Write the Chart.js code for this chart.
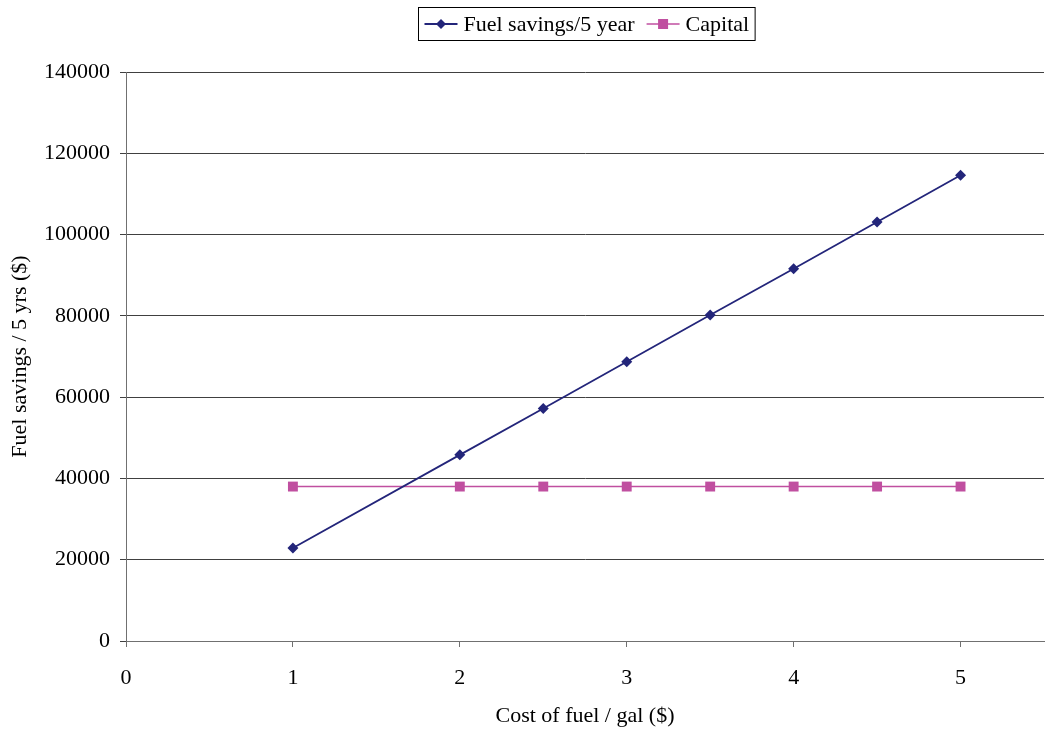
<!DOCTYPE html>
<html>
<head>
<meta charset="utf-8">
<title>Fuel savings vs capital</title>
<script src="https://cdn.jsdelivr.net/npm/chart.js@4/dist/chart.umd.min.js"></script>
<style>
  html, body { margin: 0; padding: 0; background: #fff; }
  canvas { display: block; }
</style>
</head>
<body>
<canvas id="fuel_chart" width="1046" height="740"></canvas>
<script>
// cost of fuel per gallon ($)
const fuelCost = [1, 2, 2.5, 3, 3.5, 4, 4.5, 5];
// fuel savings over 5 years ($)
const fuelSavings = [22900, 45800, 57200, 68700, 80200, 91600, 103100, 114600];
// capital cost ($)
const capital = [38000, 38000, 38000, 38000, 38000, 38000, 38000, 38000];

const seriesNames = ["Fuel savings/5 year", "Capital"];
const navy = "#23257a";
const pink = "#c04fa0";
const serif = "'Liberation Serif', 'Times New Roman', serif";

function toPoints(xs, ys) {
  return xs.map((x, i) => ({ x: x, y: ys[i] }));
}

// boxed legend with a line + marker sample for each series
const boxLegend = {
  id: "boxLegend",
  afterDraw(chart) {
    const c = chart.ctx;
    const sets = chart.data.datasets;
    c.save();
    c.font = "22px " + serif;
    c.textBaseline = "middle";
    const sample = 33, gap = 6, between = 12, pad = 6;
    let total = pad * 2;
    sets.forEach((ds, i) => {
      total += sample + gap + c.measureText(ds.label).width;
      if (i < sets.length - 1) total += between;
    });
    const left = Math.round(chart.width / 2 + 63 - total / 2) + 0.5;
    const top = 7.5, h = 33;
    c.strokeStyle = "#000";
    c.lineWidth = 1;
    c.strokeRect(left, top, total, h);
    let x = left + pad;
    const y = top + h / 2;
    sets.forEach((ds) => {
      c.strokeStyle = ds.borderColor;
      c.lineWidth = ds.borderWidth;
      c.beginPath();
      c.moveTo(x, y);
      c.lineTo(x + sample, y);
      c.stroke();
      c.fillStyle = ds.pointBackgroundColor;
      const mx = x + sample / 2;
      if (ds.pointStyle === "rectRot") {
        c.beginPath();
        c.moveTo(mx, y - 5);
        c.lineTo(mx + 5, y);
        c.lineTo(mx, y + 5);
        c.lineTo(mx - 5, y);
        c.closePath();
        c.fill();
      } else {
        c.fillRect(mx - 5, y - 5, 10, 10);
      }
      x += sample + gap;
      c.fillStyle = "#000";
      c.fillText(ds.label, x, y + 1);
      x += c.measureText(ds.label).width + between;
    });
    c.restore();
  },
};

const ctx = document.getElementById("fuel_chart").getContext("2d");
new Chart(ctx, {
  type: "scatter",
  data: {
    datasets: [
      {
        label: seriesNames[0],
        data: toPoints(fuelCost, fuelSavings),
        showLine: true,
        borderColor: navy,
        borderWidth: 1.8,
        pointStyle: "rectRot",
        pointRadius: 5.5,
        pointBackgroundColor: navy,
        pointBorderColor: navy,
        pointBorderWidth: 0,
      },
      {
        label: seriesNames[1],
        data: toPoints(fuelCost, capital),
        showLine: true,
        borderColor: pink,
        borderWidth: 1.6,
        pointStyle: "rect",
        pointRadius: 7,
        pointBackgroundColor: pink,
        pointBorderColor: pink,
        pointBorderWidth: 0,
      },
    ],
  },
  options: {
    responsive: false,
    animation: false,
    layout: {
      autoPadding: false,
      padding: { top: 72, right: 2, left: 0, bottom: 0 },
    },
    plugins: {
      legend: { display: false },
      tooltip: { enabled: false },
    },
    scales: {
      x: {
        type: "linear",
        min: 0,
        max: 5.5,
        afterBuildTicks: (scale) => {
          scale.ticks = scale.ticks.filter((t) => Number.isInteger(t.value));
        },
        afterFit: (scale) => {
          scale.height = 99;
          scale.paddingRight = 0;
        },
        ticks: {
          stepSize: 1,
          color: "#000",
          padding: 18,
          maxRotation: 0,
          font: { family: serif, size: 22 },
          callback: (v) => String(v),
        },
        grid: {
          drawOnChartArea: false,
          drawTicks: true,
          tickLength: 6,
          color: "#707070",
        },
        border: { color: "#707070", width: 1 },
        title: {
          display: true,
          text: "Cost of fuel / gal ($)",
          color: "#000",
          font: { family: serif, size: 22 },
          padding: { top: 0, bottom: 11 },
        },
      },
      y: {
        min: 0,
        max: 140000,
        afterFit: (scale) => {
          scale.width = 126;
        },
        ticks: {
          stepSize: 20000,
          color: "#000",
          padding: 10,
          font: { family: serif, size: 22 },
          callback: (v) => String(v),
        },
        grid: {
          color: "#404040",
          lineWidth: 1,
          tickLength: 6,
        },
        border: { color: "#707070", width: 1 },
        title: {
          display: true,
          text: "Fuel savings / 5 yrs ($)",
          color: "#000",
          font: { family: serif, size: 22 },
          padding: { top: 7, bottom: 0 },
        },
      },
    },
  },
  plugins: [boxLegend],
});
</script>
</body>
</html>
